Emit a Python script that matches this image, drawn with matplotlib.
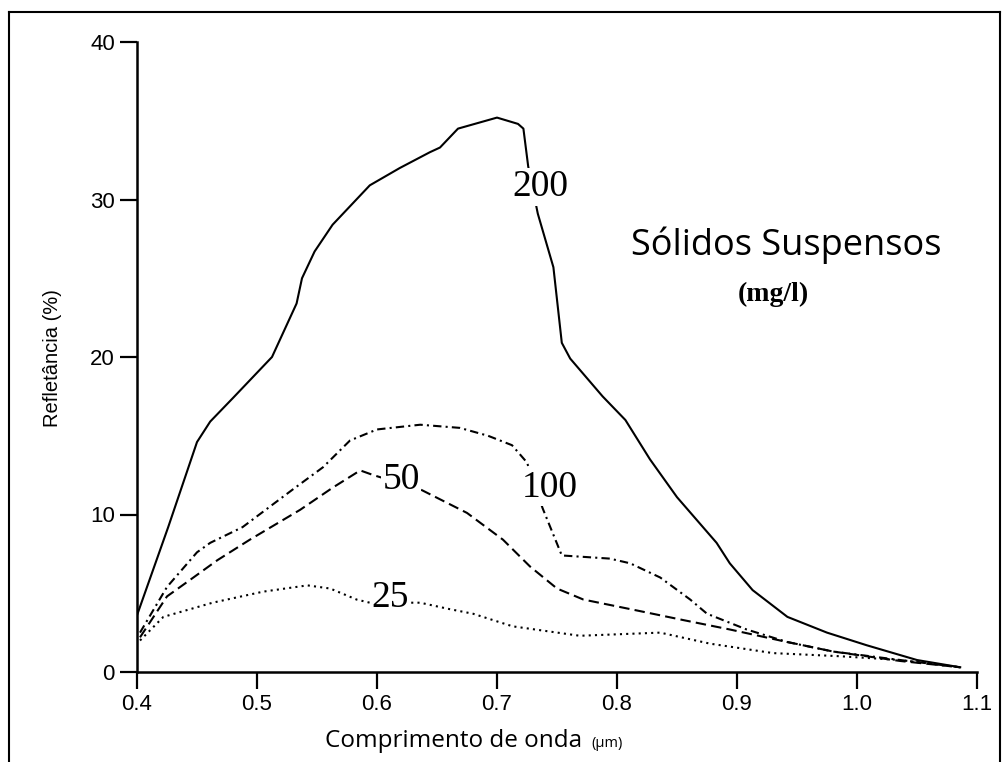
import numpy as np
import matplotlib
matplotlib.use("Agg")
import matplotlib.pyplot as plt
from matplotlib.lines import Line2D

# espectros de reflectancia por concentracao de solidos suspensos (mg/l)
wl_200 = [0.400, 0.426, 0.450, 0.461, 0.480, 0.5125, 0.533, 0.5375, 0.548, 0.563,
          0.594, 0.619, 0.644, 0.6525, 0.6675, 0.700, 0.7175, 0.722, 0.726, 0.734,
          0.747, 0.754, 0.761, 0.788, 0.807, 0.8275, 0.850, 0.883, 0.894, 0.913,
          0.942, 0.975, 1.008, 1.050, 1.086]
r_200 = [3.6, 9.2, 14.6, 15.9, 17.4, 20.0, 23.4, 25.0, 26.7, 28.4,
         30.9, 32.0, 33.0, 33.3, 34.5, 35.2, 34.8, 34.5, 32.1, 29.1,
         25.7, 20.9, 19.9, 17.5, 16.0, 13.5, 11.1, 8.2, 6.9, 5.2,
         3.5, 2.5, 1.7, 0.76, 0.3]

wl_100 = [0.4025, 0.425, 0.450, 0.461, 0.488, 0.530, 0.555, 0.5775, 0.600, 0.636,
          0.669, 0.6925, 0.7125, 0.725, 0.738, 0.754, 0.794, 0.811, 0.836, 0.861,
          0.875, 0.908, 0.942, 0.980, 1.036, 1.086]
r_100 = [2.5, 5.4, 7.6, 8.2, 9.2, 11.6, 13.0, 14.7, 15.4, 15.7,
         15.5, 15.0, 14.4, 13.3, 10.4, 7.4, 7.2, 6.9, 6.0, 4.6,
         3.7, 2.7, 1.9, 1.3, 0.76, 0.3]

wl_50 = [0.4025, 0.425, 0.447, 0.467, 0.494, 0.536, 0.563, 0.586, 0.597, 0.636,
         0.675, 0.705, 0.7275, 0.750, 0.772, 0.817, 0.855, 0.894, 0.936, 0.980,
         1.036, 1.086]
r_50 = [2.2, 4.8, 6.0, 7.1, 8.4, 10.3, 11.7, 12.8, 12.5, 11.6,
        10.1, 8.4, 6.7, 5.3, 4.6, 3.9, 3.3, 2.7, 2.0, 1.3,
        0.7, 0.3]

wl_25 = [0.4025, 0.422, 0.463, 0.505, 0.542, 0.561, 0.583, 0.594, 0.636, 0.660,
         0.680, 0.713, 0.769, 0.836, 0.8775, 0.930, 0.986, 1.036, 1.086]
r_25 = [2.0, 3.5, 4.4, 5.1, 5.5, 5.3, 4.6, 4.4, 4.4, 4.0,
        3.7, 2.9, 2.3, 2.5, 1.8, 1.2, 1.0, 0.76, 0.3]

curve_labels = ["200", "100", "50", "25"]
label_pos = [(0.736, 30.8), (0.744, 11.7), (0.620, 12.2), (0.611, 4.7)]

x_ticks = [0.4, 0.5, 0.6, 0.7, 0.8, 0.9, 1.0, 1.1]
x_ticklabels = ["0.4", "0.5", "0.6", "0.7", "0.8", "0.9", "1.0", "1.1"]
y_ticks = [0, 10, 20, 30, 40]

W, H = 1006, 762
fig = plt.figure(figsize=(W / 100, H / 100), dpi=100)
ax = fig.add_axes([137 / W, 1 - 672 / H, (977 - 137) / W, (672 - 42) / H])

lw = 1.5
ax.plot(wl_200, r_200, color="black", lw=lw, solid_joinstyle="round")
ax.plot(wl_100, r_100, color="black", lw=lw, linestyle=(0, (4, 2, 1, 2)))
ax.plot(wl_50, r_50, color="black", lw=lw, linestyle=(0, (5, 2.5)))
ax.plot(wl_25, r_25, color="black", lw=lw, linestyle=(0, (1, 2)))

for txt, (x, y) in zip(curve_labels, label_pos):
    ax.text(x, y, txt, fontsize=27, family="Liberation Serif", ha="center", va="center",
            zorder=5, bbox=dict(facecolor="white", edgecolor="none", pad=1))

ax.set_xlim(0.4, 1.1)
ax.set_ylim(0, 40)
ax.set_xticks(x_ticks)
ax.set_xticklabels(x_ticklabels)
ax.set_yticks(y_ticks)
for s in ["top", "right"]:
    ax.spines[s].set_visible(False)
for s in ["left", "bottom"]:
    ax.spines[s].set_linewidth(1.8)
ax.tick_params(axis="both", direction="out", length=12, width=1.6, pad=4,
               labelsize=16)
for lab in ax.get_xticklabels() + ax.get_yticklabels():
    lab.set_family("Liberation Sans")

# titulo e unidade dentro do grafico
fig.text(786 / W, 1 - 245 / H, "Sólidos Suspensos",
         fontsize=26, family="Open Sans", ha="center", va="center")
fig.text(773 / W, 1 - 294 / H, "(mg/l)", fontsize=20, fontweight="bold",
         family="Liberation Serif", ha="center", va="center")

# rotulos dos eixos
fig.text(52 / W, 1 - 358 / H, "Refletância (%)", rotation=90, fontsize=14.5,
         family="Liberation Sans", ha="center", va="center")
fig.text(582 / W, 1 - 747 / H, "Comprimento de onda", fontsize=17.5,
         family="Open Sans", ha="right", va="baseline")
fig.text(591 / W, 1 - 747 / H, "(µm)", fontsize=10.5,
         family="Open Sans", ha="left", va="baseline")

# moldura externa
for xs, ys in [([9, 9], [762, 12]), ([9, 1000], [12, 12]), ([1000, 1000], [12, 762])]:
    fig.add_artist(Line2D([x / W for x in xs], [1 - y / H for y in ys],
                          color="black", lw=1.5))

fig.savefig("out.png", dpi=100)
